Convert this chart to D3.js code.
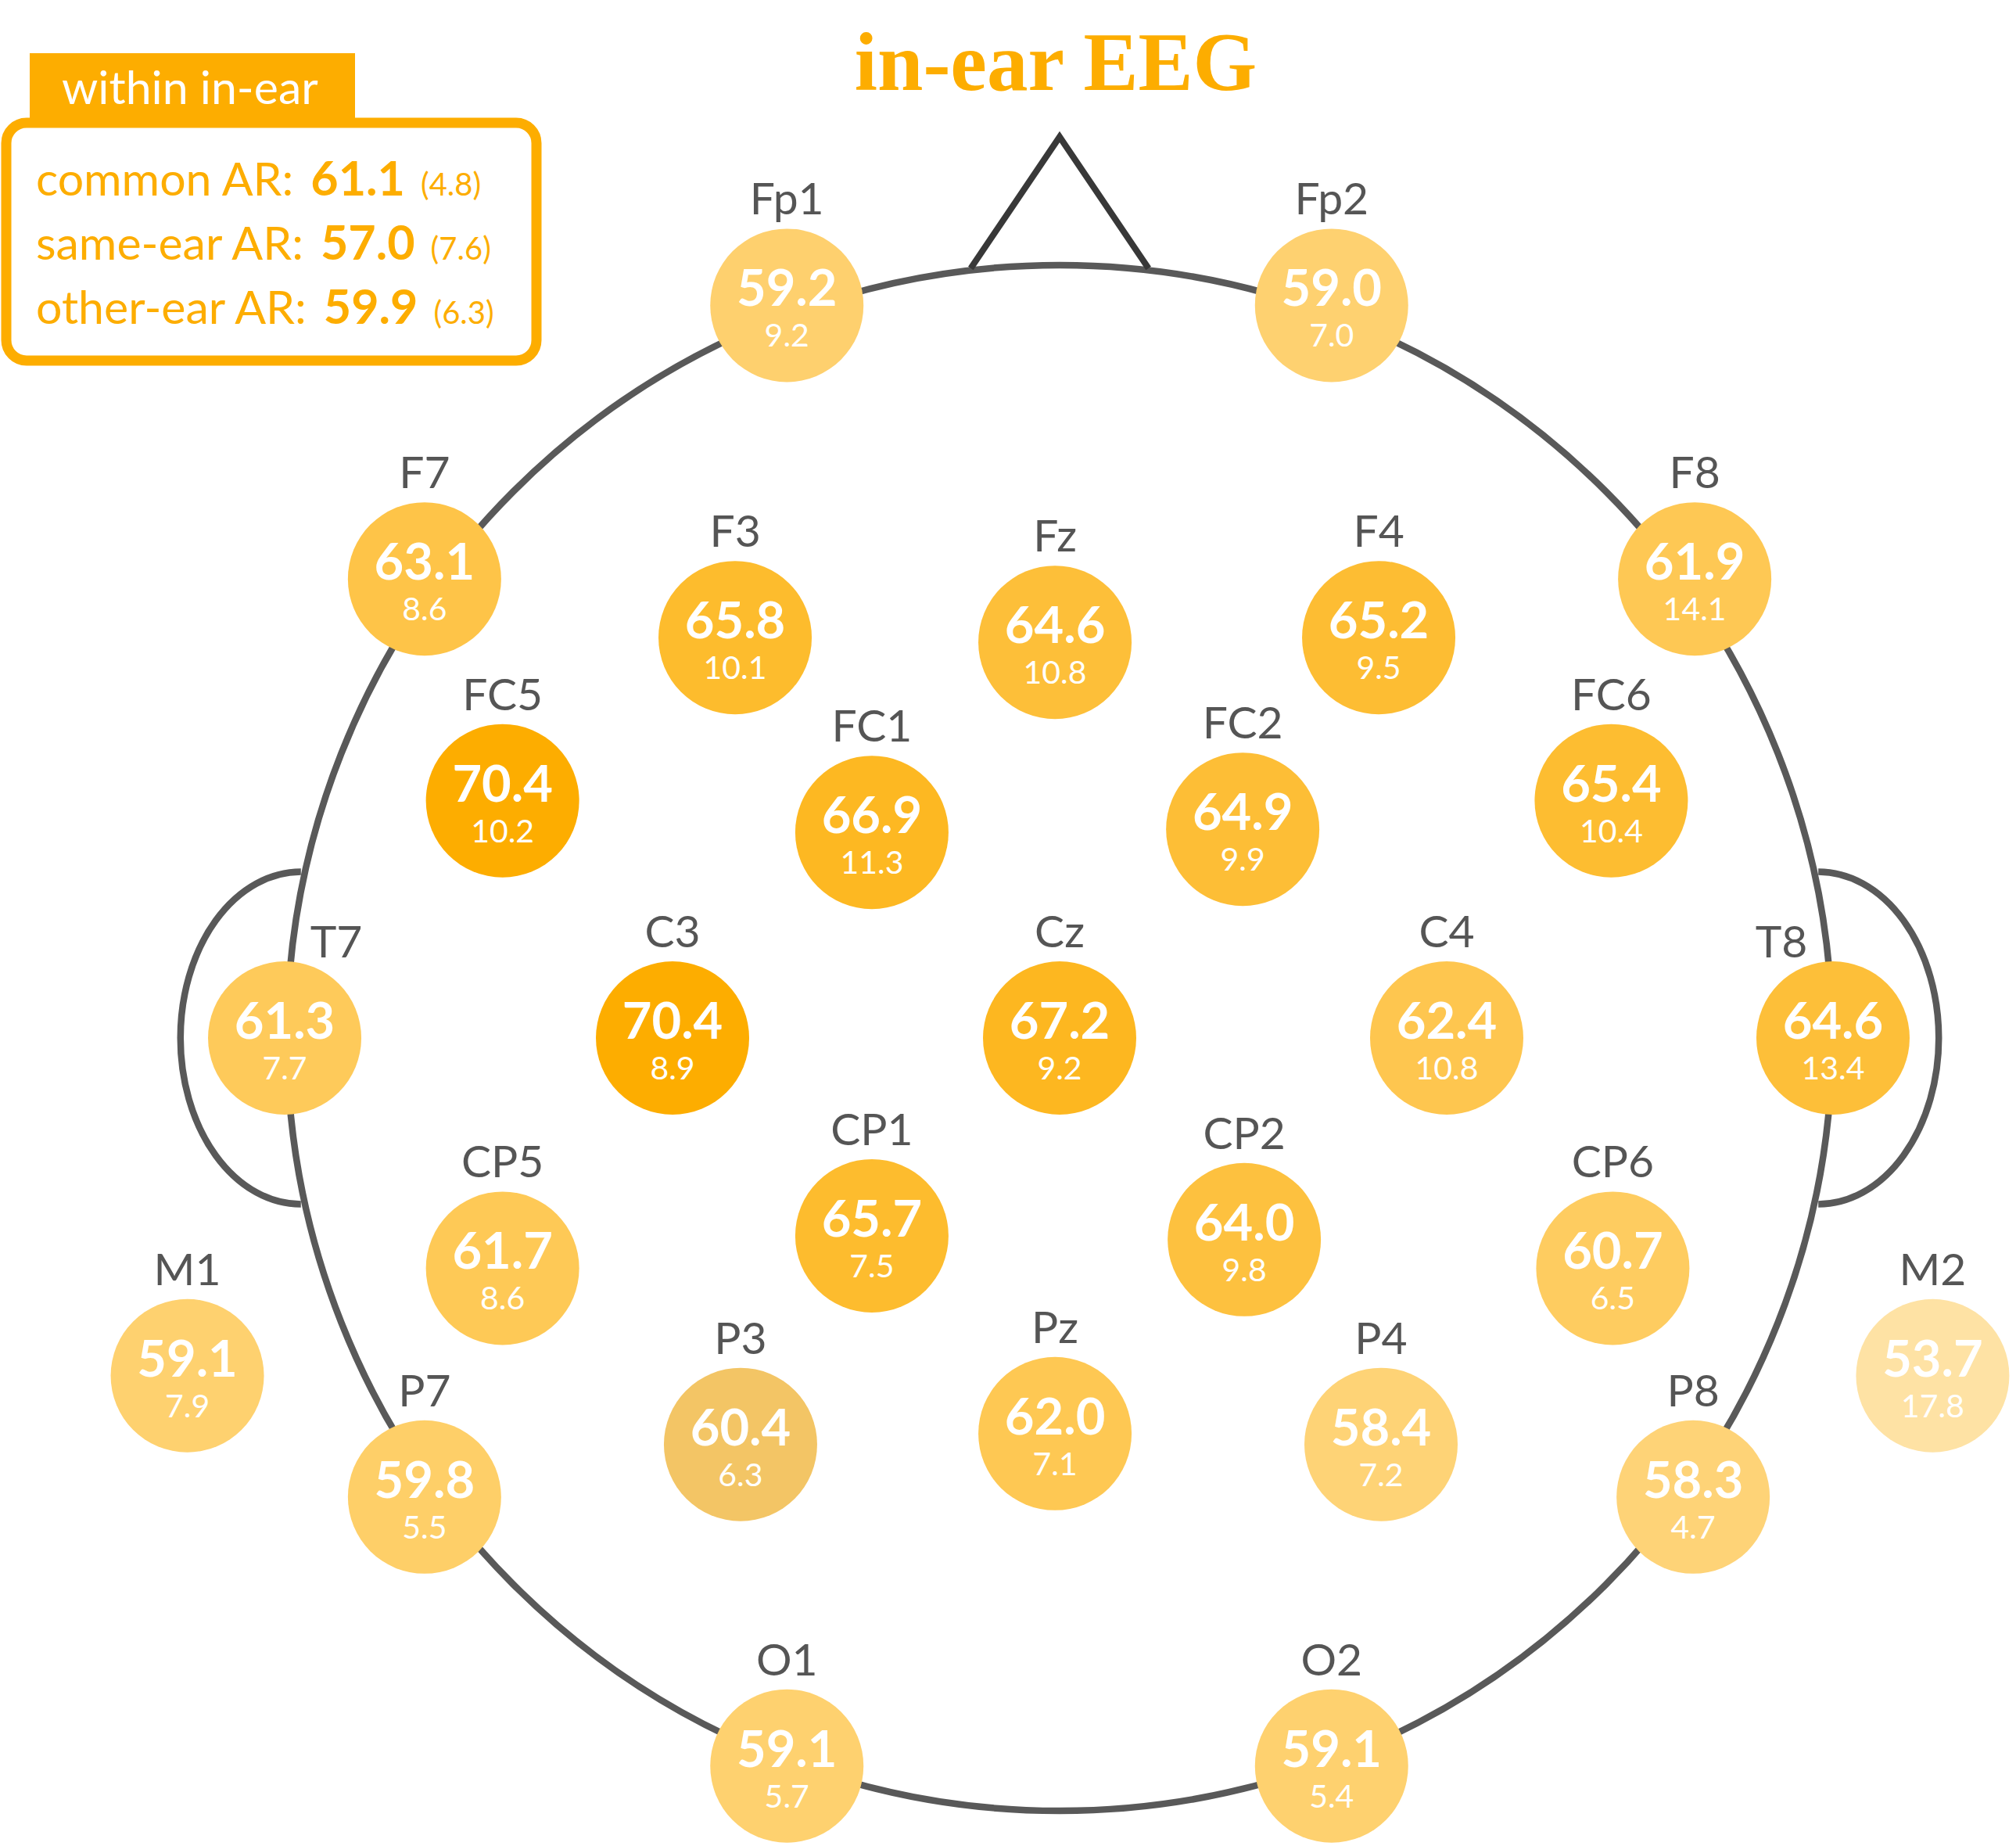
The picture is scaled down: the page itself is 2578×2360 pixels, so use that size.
<!DOCTYPE html>
<html>
<head>
<meta charset="utf-8">
<script src="https://cdn.jsdelivr.net/npm/d3@7/dist/d3.min.js"></script>
<style>
  html, body { margin: 0; padding: 0; background: #fff; }
  svg { display: block; }
</style>
</head>
<body>
<svg id="chart" width="2578" height="2360"></svg>
<script>
// ---------------- data ----------------
const titleText = "in-ear EEG";
const legendTitle = "within in-ear";
const conditions = ["common AR", "same-ear AR", "other-ear AR"];
const conditionMeans = [61.1, 57.0, 59.9];
const conditionSds = [4.8, 7.6, 6.3];

const electrodes = ["Fp1","Fp2","F7","F8","F3","Fz","F4","FC5","FC1","FC2","FC6",
                    "T7","C3","Cz","C4","T8","CP5","CP1","CP2","CP6","M1","M2",
                    "P7","P3","Pz","P4","P8","O1","O2"];
// electrode positions in head units (head radius = 1, nose up)
const posX = [-0.353, 0.352, -0.822, 0.822, -0.420, -0.006, 0.413, -0.721, -0.243, 0.237, 0.714,
              -1.003, -0.501, 0.000, 0.501, 1.001, -0.721, -0.243, 0.239, 0.716, -1.129, 1.130,
              -0.822, -0.413, -0.006, 0.416, 0.820, -0.353, 0.352];
const posY = [-0.948, -0.948, -0.594, -0.594, -0.518, -0.512, -0.518, -0.307, -0.266, -0.270, -0.307,
              0.000, 0.000, 0.000, 0.000, 0.000, 0.298, 0.256, 0.261, 0.298, 0.437, 0.437,
              0.594, 0.526, 0.512, 0.526, 0.594, 0.942, 0.942];
const meanAcc = [59.2, 59.0, 63.1, 61.9, 65.8, 64.6, 65.2, 70.4, 66.9, 64.9, 65.4,
                 61.3, 70.4, 67.2, 62.4, 64.6, 61.7, 65.7, 64.0, 60.7, 59.1, 53.7,
                 59.8, 60.4, 62.0, 58.4, 58.3, 59.1, 59.1];
const sdAcc = [9.2, 7.0, 8.6, 14.1, 10.1, 10.8, 9.5, 10.2, 11.3, 9.9, 10.4,
               7.7, 8.9, 9.2, 10.8, 13.4, 8.6, 7.5, 9.8, 6.5, 7.9, 17.8,
               5.5, 6.3, 7.1, 7.2, 4.7, 5.7, 5.4];
const mutedElectrodes = ["P3"];

// ---------------- setup ----------------
const ORANGE = "#FDAD00";
const LINE = "#595959";
const svg = d3.select("#chart");
svg.append("rect").attr("width", 2578).attr("height", 2360).attr("fill", "#fff");

const cx0 = 1355, cy0 = 1327, R = 988;
const x = d3.scaleLinear().domain([-1, 1]).range([cx0 - R, cx0 + R]);
const y = d3.scaleLinear().domain([-1, 1]).range([cy0 - R, cy0 + R]);
const rad = x(1) - x(0);

const alpha = d3.scaleLinear().domain([53.7, 70.4]).range([0.355, 1]).clamp(true);
const fillFor = (v, name) => {
  let c = d3.color(d3.interpolateRgb("#ffffff", ORANGE)(alpha(v)));
  if (mutedElectrodes.includes(name)) {
    c = d3.rgb(c.r * 0.958, c.g * 0.96, c.b * 1.03);
  }
  return c.formatHex();
};

const sansFont = "Lato, 'Noto Sans', sans-serif";

// ---------------- head outline ----------------
const head = svg.append("g").attr("fill", "none");
const earRx = 0.156 * rad, earRy = 0.215 * rad;
[-1, 1].forEach(side => {
  const ex = x(side * 0.982);
  head.append("path")
    .attr("d", `M${ex},${y(0) - earRy} A${earRx},${earRy} 0 0 ${side > 0 ? 1 : 0} ${ex},${y(0) + earRy}`)
    .attr("stroke", LINE).attr("stroke-width", 8.5);
});
head.append("circle")
  .attr("cx", x(0)).attr("cy", y(0)).attr("r", rad)
  .attr("stroke", LINE).attr("stroke-width", 8.5);
head.append("path")
  .attr("d", d3.line()([[x(-0.115), y(-0.996)], [x(0), y(-1.166)], [x(0.115), y(-0.996)]]))
  .attr("stroke", "#383838").attr("stroke-width", 8)
  .attr("stroke-linejoin", "miter");

// ---------------- electrodes ----------------
const data = electrodes.map((e, i) => ({ name: e, x: posX[i], y: posY[i], m: meanAcc[i], s: sdAcc[i] }));
const fmt = d3.format(".1f");
const g = svg.append("g");
const node = g.selectAll("g.el").data(data).join("g")
  .attr("class", "el")
  .attr("transform", d => `translate(${x(d.x)},${y(d.y)})`);

node.append("circle").attr("r", 98).attr("fill", d => fillFor(d.m, d.name));

node.append("text")
  .attr("text-anchor", "middle").attr("y", 1)
  .attr("font-family", sansFont).attr("font-weight", 700).attr("font-size", 65)
  .attr("fill", "#fff")
  .text(d => fmt(d.m));

node.append("text")
  .attr("text-anchor", "middle").attr("y", 53)
  .attr("font-family", sansFont).attr("font-weight", 400).attr("font-size", 41)
  .attr("fill", "#fff")
  .text(d => fmt(d.s));

node.append("text")
  .attr("text-anchor", "middle")
  .attr("x", d => d.name === "T7" ? 66 : d.name === "T8" ? -66 : 0)
  .attr("y", d => (d.name === "T7" || d.name === "T8") ? -103 : -116)
  .attr("font-family", sansFont).attr("font-weight", 400).attr("font-size", 57)
  .attr("fill", "#555555")
  .text(d => d.name);

// ---------------- title ----------------
svg.append("text")
  .attr("x", 1350).attr("y", 115)
  .attr("text-anchor", "middle")
  .attr("font-family", "'Liberation Serif', 'DejaVu Serif', serif")
  .attr("font-weight", 700).attr("font-size", 105)
  .attr("fill", ORANGE)
  .text(titleText);

// ---------------- legend ----------------
const lg = svg.append("g");
lg.append("rect")
  .attr("x", 38).attr("y", 68).attr("width", 416).attr("height", 90)
  .attr("fill", ORANGE);
lg.append("rect")
  .attr("x", 8).attr("y", 157).attr("width", 678).attr("height", 304)
  .attr("rx", 26).attr("ry", 26)
  .attr("fill", "#fff").attr("stroke", ORANGE).attr("stroke-width", 13);
lg.append("text")
  .attr("x", 79).attr("y", 133)
  .attr("font-family", sansFont).attr("font-size", 59)
  .attr("fill", "#fff")
  .text(legendTitle);

const lineY = d3.scalePoint().domain(conditions).range([250, 414]);
conditions.forEach((c, i) => {
  const t = lg.append("text")
    .attr("x", 46).attr("y", lineY(c))
    .attr("font-family", sansFont).attr("fill", ORANGE);
  t.append("tspan").attr("font-size", 59).attr("font-weight", 400).text(c + ":");
  t.append("tspan").attr("font-size", 61).attr("font-weight", 700).attr("dx", 22).text(fmt(conditionMeans[i]));
  t.append("tspan").attr("font-size", 40).attr("font-weight", 400).attr("dx", 20).text("(" + fmt(conditionSds[i]) + ")");
});
</script>
</body>
</html>
